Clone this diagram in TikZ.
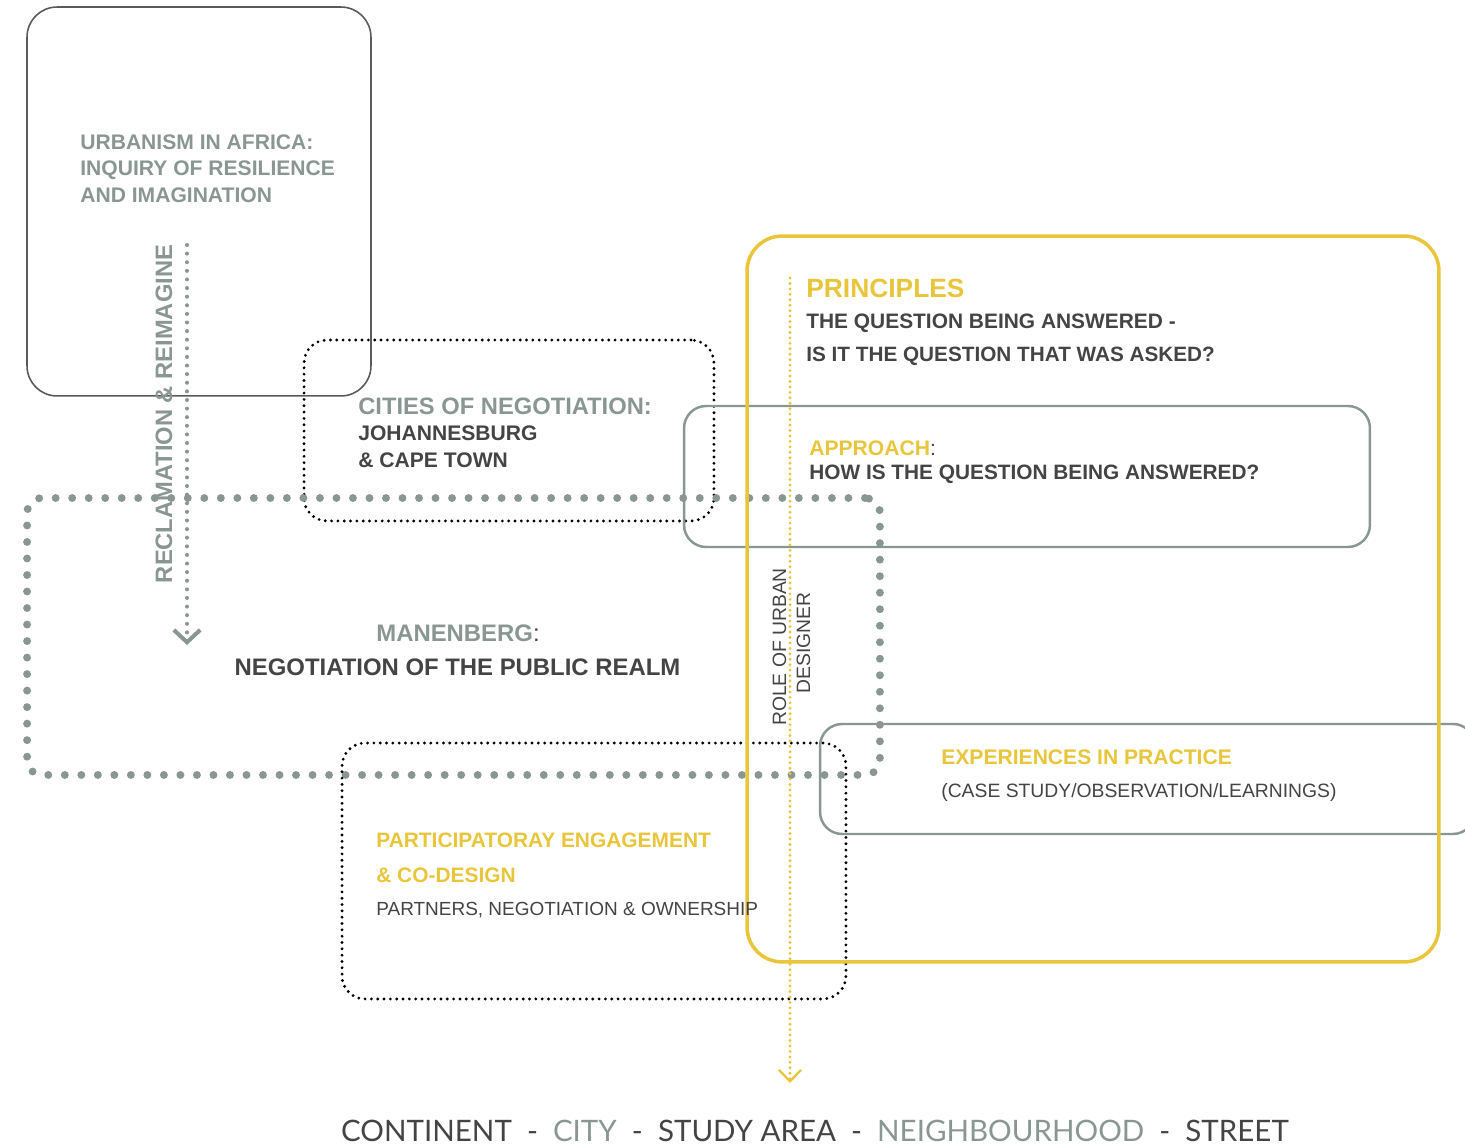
\documentclass[tikz,border=0pt]{standalone}
\usepackage{fontspec}
\setmainfont{Liberation Sans}
\newfontfamily\rulerfont{Lato}
\usetikzlibrary{arrows.meta}
\definecolor{sage}{HTML}{8A9691}
\definecolor{ink}{HTML}{444444}
\definecolor{mustard}{HTML}{E8C53A}
\definecolor{frame}{HTML}{5A5A5A}
\begin{document}
\begin{tikzpicture}[x=0.02cm,y=-0.02cm,
  framebox/.style={draw=frame, line width=0.9pt, rounded corners=0.6cm, inner sep=0pt},
  sagebox/.style={draw=sage, line width=1.4pt, rounded corners=0.44cm, inner sep=0pt},
  goldbox/.style={draw=mustard, line width=2pt, rounded corners=0.7cm, inner sep=0pt},
  inkdots/.style={draw=black, line width=1.8pt, line cap=round, dash pattern=on 0pt off 3.6pt, rounded corners=0.46cm, inner sep=0pt},
  sagedots/.style={draw=sage, line width=4.5pt, line cap=round, dash pattern=on 0pt off 9.4pt, rounded corners=0.3cm, inner sep=0pt},
  head/.style={anchor=base west, inner sep=0pt, font=\bfseries\fontsize{12}{14}\selectfont},
  plain/.style={anchor=base west, inner sep=0pt, text=ink, font=\fontsize{11}{13}\selectfont}]
\useasboundingbox (0,0) rectangle (1465,1145);
% boxes
\node (urbbox) [framebox, minimum width=6.88cm, minimum height=7.78cm] at (199,201.5) {};
\node (citybox) [inkdots, minimum width=8.2cm, minimum height=3.62cm] at (509,430.5) {};
\node (manbox) [sagedots, minimum width=17.06cm, minimum height=5.54cm] at (453.5,636.5) {};
\node (appbox) [sagebox, minimum width=13.72cm, minimum height=2.82cm] at (1027,476.5) {};
\node (expbox) [sagebox, minimum width=13.1cm, minimum height=2.2cm] at (1147.5,779) {};
\node (partbox) [inkdots, minimum width=10.08cm, minimum height=5.12cm] at (594,871) {};
\node (princbox) [goldbox, minimum width=13.84cm, minimum height=14.52cm] at (1093,599) {};
% scale arrows
\coordinate (recltop) at (187,245);
\coordinate (reclend) at (187,645);
\draw[sage, line width=2.3pt, line cap=round, dash pattern=on 0pt off 4.9pt,
  -{Straight Barb[length=7pt, width=15pt, line width=2.3pt]}] (recltop) -- (reclend);
\coordinate (roletop) at (790,278);
\coordinate (roleend) at (790,1083);
\draw[mustard, line width=1.8pt, line cap=round, dash pattern=on 0pt off 3.1pt,
  -{Straight Barb[length=6.5pt, width=12.5pt, line width=1.3pt]}] (roletop) -- (roleend);
% continent
\node[head, sage] (urb1) at (80,150) {URBANISM IN AFRICA:};
\node[head, sage] (urb2) at (80,176) {INQUIRY OF RESILIENCE};
\node[head, sage] (urb3) at (80,203) {AND IMAGINATION};
\node[head, sage, rotate=90, anchor=base, font=\bfseries\fontsize{13.5}{15}\selectfont] (recl) at (172,414) {RECLAMATION \& REIMAGINE};
% cities
\node[head, sage, font=\bfseries\fontsize{13.5}{15}\selectfont] (city1) at (358,415) {CITIES OF NEGOTIATION:};
\node[head, ink] (city2) at (358,441) {JOHANNESBURG};
\node[head, ink] (city3) at (358,468) {\& CAPE TOWN};
% study area
\node[head, anchor=base, font=\bfseries\fontsize{13.6}{15}\selectfont] (man1) at (458,642) {\textcolor{sage}{MANENBERG}\textcolor{ink}{\mdseries:}};
\node[head, ink, anchor=base, font=\bfseries\fontsize{13.6}{15}\selectfont] (man2) at (457.5,675) {NEGOTIATION OF THE PUBLIC REALM};
% principles
\node[head, mustard, font=\bfseries\fontsize{15}{17}\selectfont] (prin1) at (806,298) {PRINCIPLES};
\node[head, ink, font=\bfseries\fontsize{11.9}{14}\selectfont] (prin2) at (806,329) {THE QUESTION BEING ANSWERED -};
\node[head, ink, font=\bfseries\fontsize{11.8}{14}\selectfont] (prin3) at (806,362) {IS IT THE QUESTION THAT WAS ASKED?};
\node[head] (app1) at (809,456) {\textcolor{mustard}{APPROACH}\textcolor{ink}{\mdseries:}};
\node[head, ink, font=\bfseries\fontsize{11.85}{14}\selectfont] (app2) at (809,480) {HOW IS THE QUESTION BEING ANSWERED?};
\node[head, mustard] (exp1) at (941,764) {EXPERIENCES IN PRACTICE};
\node[plain] (exp2) at (941,797) {(CASE STUDY/OBSERVATION/LEARNINGS)};
\node[head, mustard, font=\bfseries\fontsize{11.9}{14}\selectfont] (part1) at (376,847) {PARTICIPATORAY ENGAGEMENT};
\node[head, mustard, font=\bfseries\fontsize{11.9}{14}\selectfont] (part2) at (376,882) {\& CO-DESIGN};
\node[plain, font=\fontsize{10.8}{13}\selectfont] (part3) at (376,915) {PARTNERS, NEGOTIATION \& OWNERSHIP};
\node[plain, rotate=90, anchor=base, font=\fontsize{11}{13}\selectfont] (role1) at (786,647) {ROLE OF URBAN};
\node[plain, rotate=90, anchor=base, font=\fontsize{11}{13}\selectfont] (role2) at (810,643) {DESIGNER};
% scale
\node[anchor=base, inner sep=0pt, text=ink, font=\rulerfont\fontsize{16.8}{20}\selectfont] (ruler) at (815,1141)
  {CONTINENT\ \ -\ \ \textcolor{sage}{CITY}\ \ -\ \ STUDY AREA\ \ -\ \ \textcolor{sage}{NEIGHBOURHOOD}\ \ -\ \ STREET};
\end{tikzpicture}
\end{document}
